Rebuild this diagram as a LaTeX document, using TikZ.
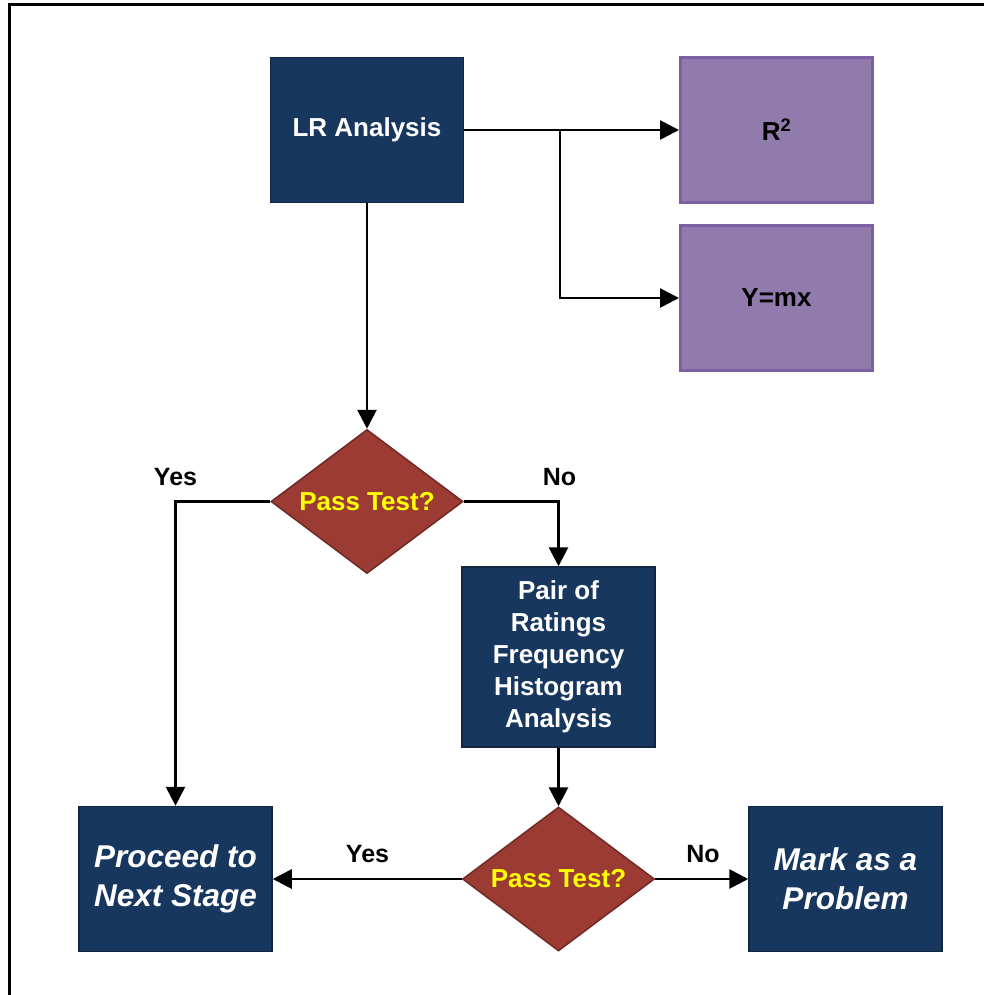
\documentclass[tikz,border=0pt]{standalone}
\usepackage{fontspec}
\setmainfont{Liberation Sans}
\usetikzlibrary{shapes.geometric,arrows.meta}
\definecolor{navy}{RGB}{23,55,94}
\definecolor{navyedge}{RGB}{16,38,66}
\definecolor{lilac}{RGB}{145,123,172}
\definecolor{lilacedge}{RGB}{122,96,160}
\definecolor{brick}{RGB}{155,59,52}
\definecolor{brickedge}{RGB}{112,42,36}
\tikzset{
  bluebox/.style={draw=navyedge, line width=1.5pt, fill=navy, text=white,
    font=\fontsize{26}{32}\selectfont\bfseries, align=center,
    minimum width=193pt, minimum height=145pt, inner sep=0pt},
  endbox/.style={bluebox, font=\fontsize{31.5}{39}\selectfont\bfseries\itshape},
  purplebox/.style={draw=lilacedge, line width=3pt, fill=lilac, text=black,
    font=\fontsize{26}{30}\selectfont\bfseries,
    minimum width=192pt, minimum height=145pt, inner sep=0pt},
  decision/.style={diamond, draw=brickedge, line width=1.5pt, fill=brick,
    text={rgb,255:red,255;green,255;blue,0}, font=\fontsize{26}{30}\selectfont\bfseries,
    aspect=1.333, minimum width=192pt, minimum height=144pt, inner sep=0pt},
  flow/.style={line width=2.8pt, -{Triangle[length=19pt,width=19pt]}},
  tag/.style={font=\fontsize{25}{30}\selectfont\bfseries, text=black}
}
\begin{document}
\begin{tikzpicture}[x=1pt,y=-1pt]
\useasboundingbox (0,0) rectangle (984,995);
\fill[white] (0,0) rectangle (984,995);
% outer frame, running off the right and bottom edges
\draw[line width=3pt] (990,4.5) -- (9.5,4.5) -- (9.5,1000);

\node[bluebox] (lr) at (367,130) {LR Analysis};
\node[purplebox] (r2) at (776.5,130) {R\textsuperscript{2}};
\node[purplebox] (ymx) at (776.5,298) {Y=mx};
\node[decision] (d1) at (367,501.5) {Pass Test?};
\node[bluebox, minimum height=180pt] (pair) at (558.5,657)
  {Pair of\\Ratings\\Frequency\\Histogram\\Analysis};
\node[decision] (d2) at (558.5,879) {Pass Test?};
\node[endbox] (next) at (175.5,879) {Proceed to\\Next Stage};
\node[endbox] (prob) at (845.5,879) {Mark as a\\Problem};

\coordinate (split) at (560,130);
\draw[flow] (lr.east) -- (r2.west);
\draw[flow] (split) |- (ymx.west);
\draw[flow] (lr.south) -- (d1.north);
\draw[flow] (d1.west) -| (next.north);
\draw[flow] (d1.east) -| (pair.north);
\draw[flow] (pair.south) -- (d2.north);
\draw[flow] (d2.west) -- (next.east);
\draw[flow] (d2.east) -- (prob.west);

\node[tag] (yes1) at (175.5,477) {Yes};
\node[tag] (no1) at (559.5,477) {No};
\node[tag] (yes2) at (367.5,854) {Yes};
\node[tag] (no2) at (703,854) {No};
\end{tikzpicture}
\end{document}
